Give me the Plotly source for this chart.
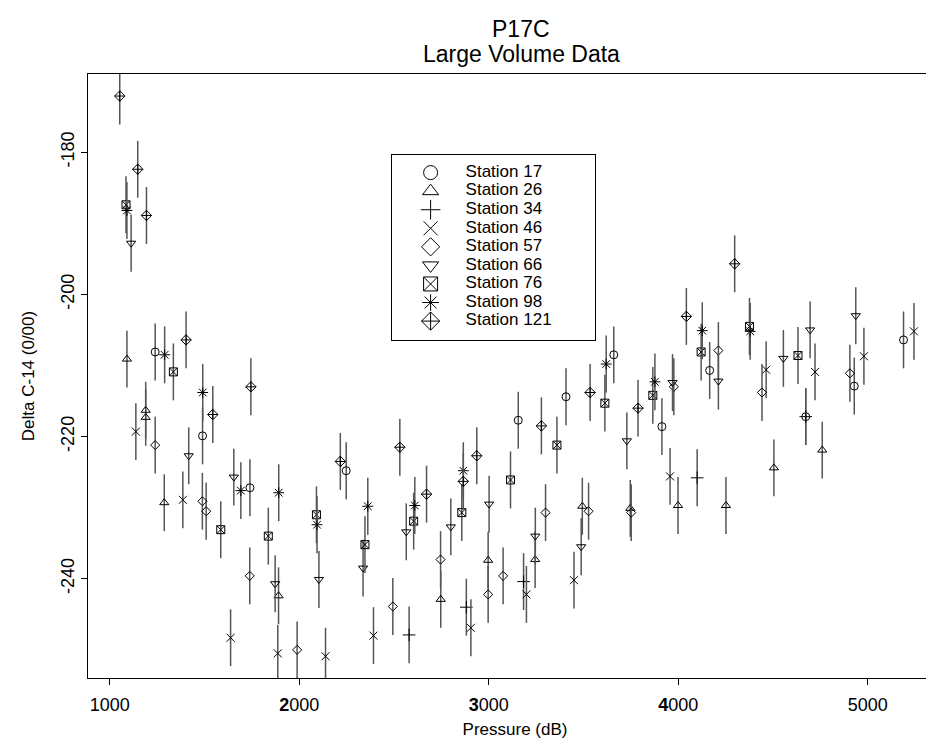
import plotly.graph_objects as go

# delta C-14 (0/00) against pressure (dB), one pair of lists per station
st17_p = [1240, 1490, 1740, 2248, 3156, 3408, 3660, 3914, 4166, 4673, 4929, 5189]
st17_c = [-208.1, -219.9, -227.2, -224.8, -217.7, -214.4, -208.5, -218.6, -210.7, -217.2, -212.9, -206.4]

st26_p = [1091, 1190, 1190, 1288, 1891, 2747, 2997, 3245, 3494, 3747, 3999, 4252, 4505, 4760]
st26_c = [-209.1, -216.3, -217.3, -229.3, -242.4, -242.9, -237.4, -237.3, -229.8, -230.1, -229.7, -229.7, -224.4, -221.9]

st34_p = [2580, 2882, 3184, 4100, 4673]
st34_c = [-247.9, -244.0, -240.4, -225.8, -217.2]

st46_p = [1138, 1386, 1638, 1887, 2139, 2392, 2906, 3199, 3450, 3957, 4464, 4722, 4980, 5244]
st46_c = [-219.3, -228.9, -248.3, -250.5, -250.9, -248.0, -246.9, -242.2, -240.2, -225.6, -210.6, -210.9, -208.7, -205.2]

st57_p = [1240, 1489, 1509, 1739, 1989, 2494, 2746, 2997, 3076, 3300, 3527, 3752, 3977, 4212, 4442, 4906]
st57_c = [-221.2, -229.1, -230.5, -239.6, -250.0, -243.9, -237.3, -242.2, -239.6, -230.7, -230.5, -230.7, -213.0, -207.9, -213.8, -211.1]

st66_p = [1113, 1417, 1655, 1873, 2104, 2337, 2565, 2800, 3002, 3246, 3488, 3729, 3970, 4212, 4555, 4696, 4937]
st66_c = [-192.8, -222.7, -225.7, -240.7, -240.1, -238.5, -233.4, -232.7, -229.5, -234.0, -235.5, -220.6, -212.4, -212.2, -209.0, -205.0, -203.0]

st76_p = [1086, 1336, 1586, 1837, 2091, 2347, 2604, 2858, 3115, 3360, 3613, 3866, 4121, 4376, 4632]
st76_c = [-187.4, -210.9, -233.1, -234.0, -231.0, -235.2, -231.9, -230.7, -226.1, -221.2, -215.3, -214.2, -208.1, -204.5, -208.6]

st98_p = [1091, 1290, 1491, 1692, 1892, 2094, 2362, 2610, 2866, 3620, 3877, 4127, 4380]
st98_c = [-188.2, -208.5, -213.8, -227.6, -227.9, -232.4, -229.8, -229.7, -224.8, -209.8, -212.3, -205.1, -205.2]

st121_p = [1053, 1148, 1194, 1403, 1544, 1745, 2217, 2531, 2672, 2866, 2937, 3278, 3535, 3788, 4043, 4298]
st121_c = [-172.1, -182.4, -188.9, -206.4, -216.9, -213.0, -223.5, -221.5, -228.1, -226.3, -222.7, -218.5, -213.8, -216.0, -203.1, -195.7]

ERR = 4.0  # every bar reaches about 4 units either side

names = ["Station 17", "Station 26", "Station 34", "Station 46", "Station 57",
         "Station 66", "Station 76", "Station 98", "Station 121"]
pressures = [st17_p, st26_p, st34_p, st46_p, st57_p, st66_p, st76_p, st98_p, st121_p]
deltas = [st17_c, st26_c, st34_c, st46_c, st57_c, st66_c, st76_c, st98_c, st121_c]
symbols = ["circle-open", "triangle-up-open", "cross-thin-open", "x-thin-open", "diamond-open",
           "triangle-down-open", "square-x-open", "asterisk-open", "diamond-cross-open"]
sizes = [8, 8, 9, 8, 7, 8, 8, 9, 8]

x_ticks = [1000, 2000, 3000, 4000, 5000]
x_ticktext = ["1000", "<b>2</b>000", "<b>3</b>000", "<b>4</b>000", "5000"]
y_ticks = [-240, -220, -200, -180]
y_ticktext = ["-240", "-220", "-200", "-180"]

FONT = "Liberation Sans, Arial, Helvetica, sans-serif"

fig = go.Figure()
for nm, px_, c, sym, sz in zip(names, pressures, deltas, symbols, sizes):
    fig.add_trace(go.Scatter(
        x=px_, y=c, mode="markers", name=nm, showlegend=False,
        marker=dict(symbol=sym, size=sz, color="black", line=dict(color="black", width=1)),
        error_y=dict(type="constant", value=ERR, color="#555555", thickness=1.5, width=0),
        cliponaxis=True))

# hand-built key in its own little box (x2/y2 measured in pixels of the box)
key_rows = list(range(len(names)))
fig.add_trace(go.Scatter(
    x=[39] * len(names), y=[17.6 + 18.56 * i for i in key_rows], mode="markers",
    marker=dict(symbol=symbols, size=14, color="black", line=dict(color="black", width=1)),
    xaxis="x2", yaxis="y2", showlegend=False, hoverinfo="skip", cliponaxis=False))
fig.add_trace(go.Scatter(
    x=[74] * len(names), y=[17.6 + 18.56 * i for i in key_rows], mode="text",
    text=names, textposition="middle right",
    textfont=dict(family=FONT, size=17, color="black"),
    xaxis="x2", yaxis="y2", showlegend=False, hoverinfo="skip", cliponaxis=False))

W, H = 934, 744
L, R, T, B = 80, 0, 66, 74
pw, ph = W - L - R, H - T - B

fig.update_layout(
    width=W, height=H, margin=dict(l=L, r=R, t=T, b=B),
    paper_bgcolor="white", plot_bgcolor="white",
    font=dict(family=FONT, size=18, color="black"),
    showlegend=False,
    xaxis=dict(range=[885.5, 5392], tickvals=x_ticks, ticktext=x_ticktext,
               ticks="outside", ticklen=6, tickcolor="black", tickwidth=1,
               showline=True, linecolor="black", linewidth=1, mirror=True,
               showgrid=False, zeroline=False, ticklabelstandoff=4,
               tickfont=dict(size=18),
               title=dict(text="Pressure (dB)", font=dict(size=17), standoff=9),
               automargin=False),
    yaxis=dict(range=[-253.96, -169.0], tickvals=y_ticks, ticktext=y_ticktext,
               ticks="outside", ticklen=6, tickcolor="black", tickwidth=1,
               showline=True, linecolor="black", linewidth=1, mirror=False,
               showgrid=False, zeroline=False, tickangle=-90,
               tickfont=dict(size=18),
               title=dict(text="Delta C-14 (0/00)", font=dict(size=17), standoff=18),
               automargin=False),
    xaxis2=dict(domain=[(383.6 - L) / pw, (586.5 - L) / pw], range=[0, 202.9],
                anchor="y2", showline=True, mirror=True, linecolor="black", linewidth=1,
                showticklabels=False, ticks="", showgrid=False, zeroline=False),
    yaxis2=dict(domain=[(H - B - 332) / ph, (H - B - 147) / ph], range=[185, 0],
                anchor="x2", showline=True, mirror=True, linecolor="black", linewidth=1,
                showticklabels=False, ticks="", showgrid=False, zeroline=False),
    annotations=[
        dict(text="P17C", x=(513 - L) / pw, y=(H - B - 21) / ph, xref="paper", yref="paper",
             showarrow=False, font=dict(size=23), xanchor="center", yanchor="middle"),
        dict(text="Large Volume Data", x=(513 - L) / pw, y=(H - B - 46) / ph, xref="paper",
             yref="paper", showarrow=False, font=dict(size=23), xanchor="center", yanchor="middle"),
    ],
)

fig.write_html("out.html")
